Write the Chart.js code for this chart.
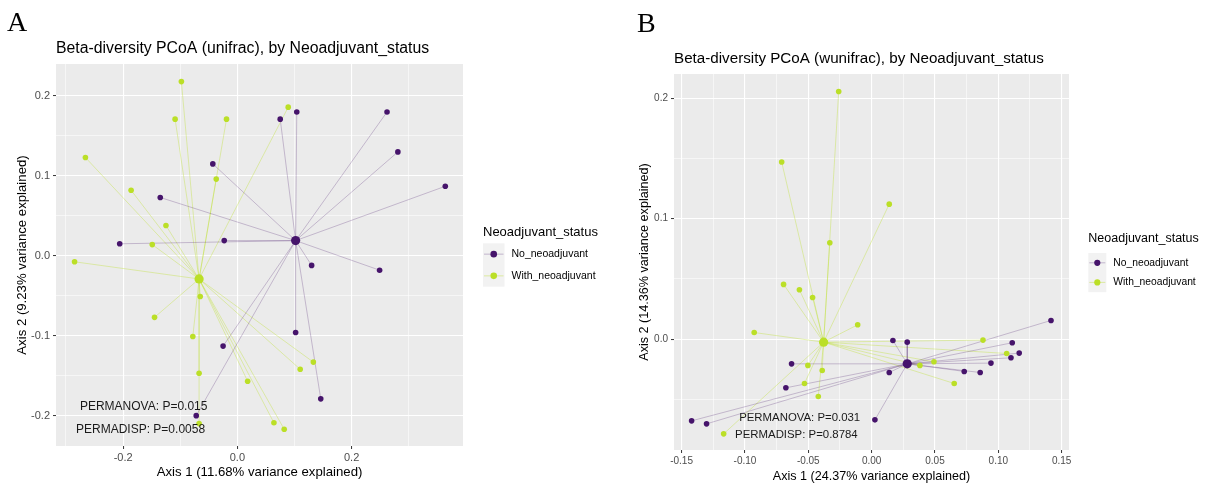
<!DOCTYPE html>
<html>
<head>
<meta charset="utf-8">
<script src="https://cdn.jsdelivr.net/npm/chart.js@4/dist/chart.umd.min.js"></script>
<style>
  html, body { margin: 0; padding: 0; background: #ffffff; }
  #wrap { position: relative; width: 1205px; height: 484px; overflow: hidden; }
  canvas { position: absolute; top: 0; }
  #cA { left: 0; }
  #cB { left: 600px; }
</style>
</head>
<body>
<div id="wrap">
  <canvas id="cA" width="600" height="484"></canvas>
  <canvas id="cB" width="605" height="484"></canvas>
</div>
<script>
// Groups and colours
const groups = ['No_neoadjuvant', 'With_neoadjuvant'];
const groupColors = ['#46146B', '#BBDF27'];
const spokeColors = ['rgba(70,20,107,0.28)', 'rgba(187,223,39,0.40)'];

// Panel A: unweighted UniFrac PCoA sample coordinates [Axis 1, Axis 2]
const unifracNo = [
  [0.262, 0.180], [0.281, 0.130], [0.364, 0.087], [0.104, 0.180], [0.075, 0.171],
  [-0.043, 0.115], [-0.135, 0.073], [-0.206, 0.015], [-0.023, 0.019], [0.130, -0.012],
  [0.249, -0.018], [0.102, -0.096], [-0.025, -0.113], [0.146, -0.179], [-0.072, -0.200]
];
const unifracWith = [
  [-0.098, 0.218], [-0.109, 0.171], [-0.019, 0.171], [0.089, 0.186], [-0.266, 0.123],
  [-0.186, 0.082], [-0.037, 0.096], [-0.125, 0.038], [-0.149, 0.014], [-0.285, -0.0075],
  [-0.065, -0.051], [-0.145, -0.077], [-0.078, -0.101], [-0.067, -0.147], [0.018, -0.157],
  [0.133, -0.133], [0.110, -0.142], [0.064, -0.209], [0.082, -0.217], [-0.067, -0.210]
];
const unifracCentroids = [[0.102, 0.019], [-0.067, -0.029]];
const unifracXTicks = [-0.2, 0, 0.2];
const unifracXLabels = ['-0.2', '0.0', '0.2'];
const unifracXMinor = [-0.3, -0.1, 0.1, 0.3];
const unifracYTicks = [-0.2, -0.1, 0, 0.1, 0.2];
const unifracYLabels = ['-0.2', '-0.1', '0.0', '0.1', '0.2'];
const unifracYMinor = [-0.15, -0.05, 0.05, 0.15];
const unifracStats = ['PERMANOVA: P=0.015', 'PERMADISP: P=0.0058'];

// Panel B: weighted UniFrac PCoA sample coordinates [Axis 1, Axis 2]
const wunifracNo = [
  [0.1416, 0.0155], [0.0168, -0.0011], [0.0281, -0.0025], [0.111, -0.003], [0.1165, -0.0116],
  [0.110, -0.0155], [0.0942, -0.0199], [-0.0632, -0.0205], [0.0139, -0.0277], [0.0731, -0.0268],
  [0.0857, -0.0277], [-0.0677, -0.0404], [0.0026, -0.067], [-0.1421, -0.0678], [-0.1303, -0.0703]
];
const wunifracWith = [
  [-0.026, 0.2055], [-0.071, 0.147], [0.0139, 0.112], [-0.033, 0.080], [-0.0695, 0.0454],
  [-0.057, 0.041], [-0.0466, 0.0346], [-0.011, 0.0119], [-0.0927, 0.0055], [0.0879, -0.0008],
  [0.1066, -0.0119], [0.0492, -0.0188], [0.0381, -0.0218], [-0.0503, -0.0218], [-0.039, -0.026],
  [-0.053, -0.0368], [0.0652, -0.0368], [-0.0421, -0.0476], [-0.1168, -0.0786]
];
const wunifracCentroids = [[0.0281, -0.0205], [-0.0379, -0.0025]];
const wunifracXTicks = [-0.15, -0.10, -0.05, 0, 0.05, 0.10, 0.15];
const wunifracXLabels = ['-0.15', '-0.10', '-0.05', '0.00', '0.05', '0.10', '0.15'];
const wunifracXMinor = [-0.125, -0.075, -0.025, 0.025, 0.075, 0.125];
const wunifracYTicks = [0, 0.1, 0.2];
const wunifracYLabels = ['0.0', '0.1', '0.2'];
const wunifracYMinor = [-0.05, 0.05, 0.15];
const wunifracStats = ['PERMANOVA: P=0.031', 'PERMADISP: P=0.8784'];

Chart.defaults.font.family = '"Liberation Sans", Arial, Helvetica, sans-serif';

const SANS = '"Liberation Sans", Arial, Helvetica, sans-serif';
const SERIF = '"Liberation Serif", "Times New Roman", serif';

function near(a, b) { return Math.abs(a - b) < 1e-9; }

// Grey panel background behind the grid
const panelBackground = {
  id: 'panelBackground',
  beforeDraw(chart) {
    const { ctx, chartArea: a } = chart;
    ctx.save();
    ctx.fillStyle = '#EBEBEB';
    ctx.fillRect(a.left, a.top, a.right - a.left, a.bottom - a.top);
    ctx.restore();
  }
};

// Panel letter, title, axis titles, statistics and legend
const panelText = {
  id: 'panelText',
  afterDraw(chart, args, o) {
    const { ctx, chartArea: a, scales } = chart;
    ctx.save();
    ctx.fillStyle = '#000';
    // panel letter
    ctx.font = o.letterSize + 'px ' + SERIF;
    ctx.textAlign = 'left';
    ctx.textBaseline = 'alphabetic';
    ctx.fillText(o.letter, o.letterX, o.letterY);
    // title
    ctx.font = o.titleSize + 'px ' + SANS;
    ctx.textBaseline = 'middle';
    ctx.fillText(o.title, a.left, o.titleY);
    // axis titles
    ctx.font = o.axisSize + 'px ' + SANS;
    ctx.textAlign = 'center';
    ctx.fillText(o.xTitle, (a.left + a.right) / 2, o.xTitleY);
    ctx.save();
    ctx.translate(o.yTitleX, (a.top + a.bottom) / 2);
    ctx.rotate(-Math.PI / 2);
    ctx.fillText(o.yTitle, 0, 0);
    ctx.restore();
    // statistics
    ctx.font = o.statSize + 'px ' + SANS;
    ctx.fillStyle = '#1a1a1a';
    o.stats.forEach((s, i) => {
      ctx.fillText(s, scales.x.getPixelForValue(o.statPos[i][0]), scales.y.getPixelForValue(o.statPos[i][1]));
    });
    // legend
    const L = o.legend;
    ctx.fillStyle = '#000';
    ctx.textAlign = 'left';
    ctx.font = L.titleSize + 'px ' + SANS;
    ctx.fillText('Neoadjuvant_status', L.x, L.titleY);
    ctx.fillStyle = '#F2F2F2';
    ctx.fillRect(L.x, L.keyTop, L.keyW, L.keyH * groups.length);
    groups.forEach((g, i) => {
      const cy = L.keyTop + L.keyH * (i + 0.5);
      ctx.strokeStyle = spokeColors[i];
      ctx.lineWidth = 1;
      ctx.beginPath();
      ctx.moveTo(L.x + 1, cy);
      ctx.lineTo(L.x + L.keyW - 1, cy);
      ctx.stroke();
      ctx.fillStyle = groupColors[i];
      ctx.beginPath();
      ctx.arc(L.x + L.keyW / 2, cy, L.dot, 0, Math.PI * 2);
      ctx.fill();
      ctx.fillStyle = '#000';
      ctx.font = L.labelSize + 'px ' + SANS;
      ctx.fillText(g, L.x + L.keyW + 7, cy);
    });
    ctx.restore();
  }
};

function makePanel(id, p) {
  const datasets = [];
  const sets = [p.no, p.with];
  // spokes from each sample to its group centroid
  sets.forEach((pts, gi) => {
    const c = p.centroids[gi];
    pts.forEach(pt => {
      datasets.push({
        data: [{ x: pt[0], y: pt[1] }, { x: c[0], y: c[1] }],
        showLine: true, pointRadius: 0, borderColor: spokeColors[gi],
        borderWidth: 0.9, order: 2
      });
    });
  });
  // samples
  sets.forEach((pts, gi) => {
    datasets.push({
      label: groups[gi],
      data: pts.map(pt => ({ x: pt[0], y: pt[1] })),
      pointRadius: p.dot, backgroundColor: groupColors[gi], borderWidth: 0, order: 1
    });
  });
  // centroids
  p.centroids.forEach((c, gi) => {
    datasets.push({
      data: [{ x: c[0], y: c[1] }],
      pointRadius: p.bigDot, backgroundColor: groupColors[gi], borderWidth: 0, order: 0
    });
  });

  function axis(major, minor, labels, min, max, fitFn, fontSize, pad) {
    const isMajor = v => major.some(m => near(m, v));
    return {
      type: 'linear', min, max,
      afterBuildTicks(scale) {
        scale.ticks = major.concat(minor).sort((a, b) => a - b).map(v => ({ value: v }));
      },
      afterFit: fitFn,
      border: { display: false },
      grid: {
        color: '#FFFFFF',
        lineWidth: ctx => (ctx.tick && isMajor(ctx.tick.value)) ? 1.1 : 0.55,
        tickColor: ctx => (ctx.tick && isMajor(ctx.tick.value)) ? '#333333' : 'rgba(0,0,0,0)',
        tickLength: 3,
        tickWidth: 1
      },
      ticks: {
        autoSkip: false, maxRotation: 0, padding: pad,
        color: '#4D4D4D', font: { size: fontSize },
        callback: v => {
          const i = major.findIndex(m => near(m, v));
          return i >= 0 ? labels[i] : '';
        }
      }
    };
  }

  return new Chart(document.getElementById(id), {
    type: 'scatter',
    data: { datasets },
    plugins: [panelBackground, panelText],
    options: {
      responsive: false, animation: false, events: [],
      layout: { padding: { top: p.area.top, right: p.width - p.area.right, left: 0, bottom: 0 } },
      scales: {
        x: axis(p.xMajor, p.xMinor, p.xLabels, p.xRange[0], p.xRange[1],
                s => { s.height = p.height - p.area.bottom; }, p.tickSize, 2),
        y: axis(p.yMajor, p.yMinor, p.yLabels, p.yRange[0], p.yRange[1],
                s => { s.width = p.area.left; }, p.tickSize, 3)
      },
      plugins: {
        legend: { display: false },
        tooltip: { enabled: false },
        panelText: p.text
      }
    }
  });
}

makePanel('cA', {
  width: 600, height: 484,
  area: { left: 56, right: 463, top: 64, bottom: 446 },
  no: unifracNo, with: unifracWith, centroids: unifracCentroids,
  xMajor: unifracXTicks, xMinor: unifracXMinor, xLabels: unifracXLabels, xRange: [-0.3175, 0.395],
  yMajor: unifracYTicks, yMinor: unifracYMinor, yLabels: unifracYLabels, yRange: [-0.238, 0.240],
  tickSize: 11, dot: 2.8, bigDot: 4.6,
  text: {
    letter: 'A', letterSize: 28, letterX: 7, letterY: 31,
    title: 'Beta-diversity PCoA (unifrac), by Neoadjuvant_status', titleSize: 15.8, titleY: 49,
    axisSize: 13.2, xTitle: 'Axis 1 (11.68% variance explained)', xTitleY: 472,
    yTitle: 'Axis 2 (9.23% variance explained)', yTitleX: 22.5,
    statSize: 12, stats: unifracStats, statPos: [[-0.164, -0.1886], [-0.1695, -0.2178]],
    legend: { x: 483, titleY: 232, titleSize: 13, keyTop: 243.3, keyH: 21.7, keyW: 21.5,
              dot: 3.3, labelSize: 10.5 }
  }
});

makePanel('cB', {
  width: 605, height: 484,
  area: { left: 74, right: 469, top: 74, bottom: 450 },
  no: wunifracNo, with: wunifracWith, centroids: wunifracCentroids,
  xMajor: wunifracXTicks, xMinor: wunifracXMinor, xLabels: wunifracXLabels, xRange: [-0.156, 0.1558],
  yMajor: wunifracYTicks, yMinor: wunifracYMinor, yLabels: wunifracYLabels, yRange: [-0.092, 0.220],
  tickSize: 10, dot: 2.8, bigDot: 4.6,
  text: {
    letter: 'B', letterSize: 28, letterX: 37, letterY: 32,
    title: 'Beta-diversity PCoA (wunifrac), by Neoadjuvant_status', titleSize: 15.2, titleY: 59,
    axisSize: 12.6, xTitle: 'Axis 1 (24.37% variance explained)', xTitleY: 476.7,
    yTitle: 'Axis 2 (14.36% variance explained)', yTitleX: 45,
    statSize: 11.4, stats: wunifracStats, statPos: [[-0.0568, -0.0653], [-0.0594, -0.0791]],
    legend: { x: 488.3, titleY: 239, titleSize: 12.5, keyTop: 253, keyH: 19.6, keyW: 18,
              dot: 3.1, labelSize: 10.3 }
  }
});
</script>
</body>
</html>
